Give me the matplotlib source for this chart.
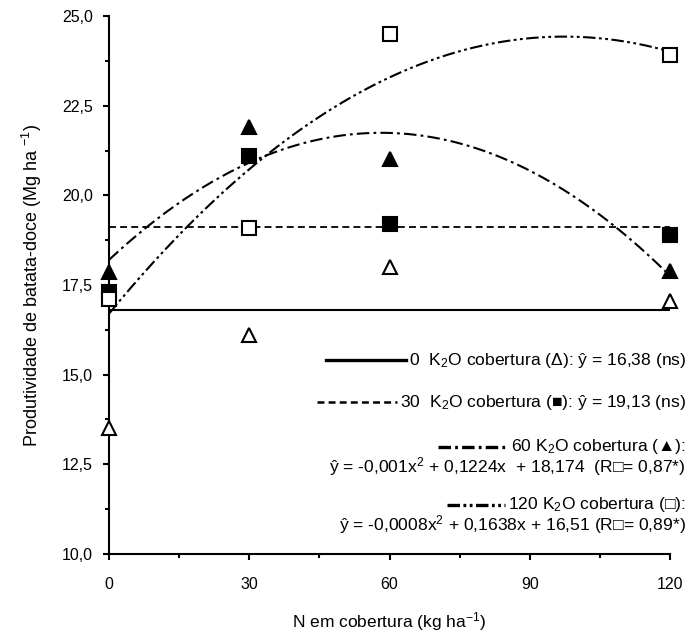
import numpy as np
import matplotlib
matplotlib.use("Agg")
import matplotlib.pyplot as plt
from matplotlib.lines import Line2D
from matplotlib.ticker import MultipleLocator

plt.rcParams['font.family'] = ['Liberation Sans', 'DejaVu Sans']
plt.rcParams['mathtext.fontset'] = 'custom'
plt.rcParams['mathtext.rm'] = 'Liberation Sans'
plt.rcParams['mathtext.it'] = 'Liberation Sans:italic'
plt.rcParams['lines.scale_dashes'] = False

# N doses (kg/ha) and yields (Mg/ha)
n_doses = [0, 30, 60, 120]
k0_yield = [13.5, 16.1, 18.0, 17.05]     # open triangle
k30_yield = [17.3, 21.1, 19.2, 18.9]     # filled square
k60_yield = [17.85, 21.9, 21.0, 17.9]    # filled triangle
k120_yield = [17.1, 19.1, 24.5, 23.9]    # open square

# fitted lines as drawn
k0_mean = 16.8
k30_mean = 19.13
k60_coef = [-0.001045, 0.1217, 18.2]
k120_coef = [-0.000815, 0.1587, 16.7]

x_ticks = [0, 30, 60, 90, 120]
y_ticks = [10.0, 12.5, 15.0, 17.5, 20.0, 22.5, 25.0]

W, H = 692, 634
fig = plt.figure(figsize=(W / 100, H / 100), dpi=100)
ax = fig.add_axes([109 / W, 1 - 554 / H, (670 - 109) / W, (554 - 16) / H])

xs = np.linspace(0, 120, 300)
lw = 1.5
ax.plot([0, 120], [k0_mean, k0_mean], color='black', lw=lw, solid_capstyle='butt')
ax.plot([0, 120], [k30_mean, k30_mean], color='black', lw=1.3, dashes=(5, 3))
ax.plot(xs, np.polyval(k60_coef, xs), color='black', lw=lw, dashes=(9, 3, 2, 3))
ax.plot(xs, np.polyval(k120_coef, xs), color='black', lw=lw, dashes=(9, 2.5, 2, 2.5, 2, 2.5))

mk = dict(linestyle='none', markersize=9.5, markeredgewidth=1.5, markeredgecolor='black', clip_on=False, zorder=5)
ax.plot(n_doses, k0_yield, marker='^', markerfacecolor='white', **mk)
ax.plot(n_doses, k30_yield, marker='s', markerfacecolor='black', **mk)
ax.plot(n_doses, k60_yield, marker='^', markerfacecolor='black', **mk)
ax.plot(n_doses, k120_yield, marker='s', markerfacecolor='white', **mk)

ax.set_xlim(0, 120)
ax.set_ylim(10, 25)
ax.set_xticks(x_ticks)
ax.set_xticklabels([str(v) for v in x_ticks])
ax.set_yticks(y_ticks)
ax.set_yticklabels([f"{v:.1f}".replace('.', ',') for v in y_ticks])
ax.xaxis.set_minor_locator(MultipleLocator(15))
ax.yaxis.set_minor_locator(MultipleLocator(1.25))
ax.tick_params(which='major', direction='out', length=4.5, width=1.5, labelsize=11.5, color='black')
ax.tick_params(axis='x', which='major', pad=12)
ax.tick_params(axis='y', which='major', pad=7)
ax.tick_params(which='minor', direction='out', length=3, width=1.5, color='black')
for s in ['top', 'right']:
    ax.spines[s].set_visible(False)
for s in ['left', 'bottom']:
    ax.spines[s].set_linewidth(1.5)

ax.set_xlabel(r'N em cobertura (kg ha$^{-1}$)', fontsize=12.5, labelpad=13)
ax.set_ylabel(r'Produtividade de batata-doce (Mg ha $^{-1}$)', fontsize=13, labelpad=13)

# legend block, right aligned
entries = [
    (360, ['0  K$_2$O cobertura (\u0394): \u0177 = 16,38 (ns)'], dict(dashes=(None, None)), 80),
    (402, ['30  K$_2$O cobertura (\u25a0): \u0177 = 19,13 (ns)'], dict(dashes=(5, 3), lw=1.8), 80),
    (447, ['60 K$_2$O cobertura (\u25b2):',
           '\u0177 = -0,001x$^2$ + 0,1224x  + 18,174  (R\u25a1= 0,87*)'], dict(dashes=(9, 3, 2, 3)), 70),
    (505, ['120 K$_2$O cobertura (\u25a1):',
           '\u0177 = -0,0008x$^2$ + 0,1638x + 16,51 (R\u25a1= 0,89*)'], dict(dashes=(9, 2.5, 2, 2.5, 2, 2.5)), 58),
]
renderer = fig.canvas.get_renderer()
for y0, lines, style, length in entries:
    first = None
    for i, txt in enumerate(lines):
        t = fig.text(686 / W, 1 - (y0 + i * 20) / H, txt, ha='right', va='center', fontsize=12.6)
        if first is None:
            first = t
    bb = first.get_window_extent(renderer)
    x1 = bb.x0 - 3
    x0 = x1 - length
    yy = 1 - y0 / H
    kw = dict(color='black', lw=style.get('lw', 2.4), transform=fig.transFigure)
    if style['dashes'][0] is not None:
        kw['dashes'] = style['dashes']
    fig.add_artist(Line2D([x0 / W, x1 / W], [yy, yy], **kw))

fig.savefig('out.png', dpi=100)
